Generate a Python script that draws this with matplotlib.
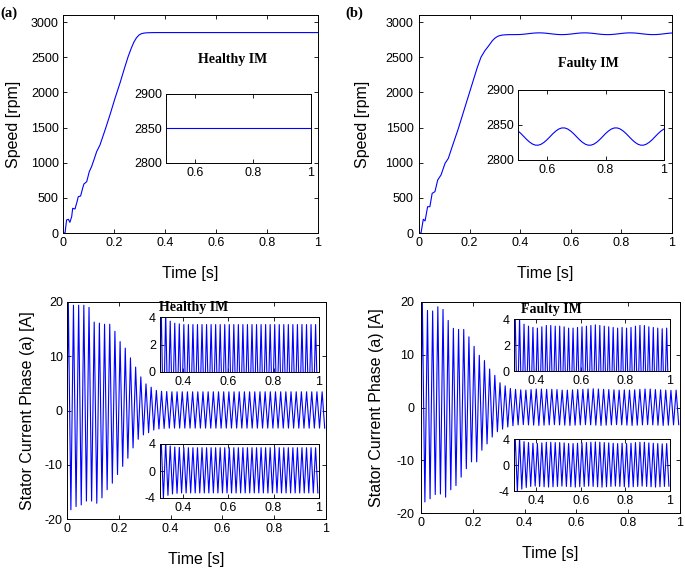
import numpy as np
import matplotlib
matplotlib.use("Agg")
import matplotlib.pyplot as plt
from matplotlib.ticker import FuncFormatter

plt.rcParams['font.family'] = ['Liberation Sans', 'DejaVu Sans']
plt.rcParams['axes.unicode_minus'] = False

# ---- speed, healthy motor (rpm) ----
h_time = [0, 0.008, 0.014, 0.021, 0.027, 0.034, 0.038, 0.047, 0.054, 0.060,
          0.069, 0.077, 0.082, 0.093, 0.103, 0.112, 0.122, 0.132, 0.145, 0.165,
          0.184, 0.204, 0.224, 0.243, 0.256, 0.268, 0.278, 0.288, 0.298, 0.308,
          0.318, 0.330, 0.345, 0.360, 0.400, 0.500, 0.600, 0.700, 0.800, 0.900, 1.000]
h_speed = [0, 0, 185, 195, 152, 232, 351, 341, 431, 517,
           526, 636, 697, 730, 872, 943, 1048, 1157, 1252, 1465,
           1678, 1916, 2138, 2366, 2514, 2630, 2715, 2775, 2815, 2835,
           2843, 2847, 2849, 2850, 2850, 2850, 2850, 2850, 2850, 2850, 2850]

# ---- speed, faulty motor (rpm): run-up, then steady part sampled every 10 ms ----
f_time_rise = [0, 0.008, 0.017, 0.024, 0.034, 0.043, 0.052, 0.063, 0.074, 0.087,
               0.103, 0.116, 0.129, 0.155, 0.180, 0.205, 0.230, 0.245, 0.260, 0.275,
               0.290, 0.300, 0.310, 0.320, 0.330, 0.340, 0.350, 0.360, 0.370, 0.380, 0.390]
f_speed_rise = [0, 0, 195, 172, 374, 374, 564, 588, 754, 825,
                991, 1062, 1204, 1480, 1770, 2060, 2350, 2500, 2590, 2660,
                2735, 2770, 2795, 2808, 2815, 2818, 2820, 2821, 2821, 2821, 2822]
f_speed_steady = [2822.7, 2825.5, 2829.2, 2833.5, 2837.8, 2841.5, 2844.3, 2845.8, 2845.8,
                  2844.3, 2841.5, 2837.8, 2833.5, 2829.2, 2825.5, 2822.7, 2821.2, 2821.2,
                  2822.7, 2825.5, 2829.2, 2833.5, 2837.8, 2841.5, 2844.3, 2845.8, 2845.8,
                  2844.3, 2841.5, 2837.8, 2833.5, 2829.2, 2825.5, 2822.7, 2821.2, 2821.2,
                  2822.7, 2825.5, 2829.2, 2833.5, 2837.8, 2841.5, 2844.3, 2845.8, 2845.8,
                  2844.3, 2841.5, 2837.8, 2833.5, 2829.2, 2825.5, 2822.7, 2821.2, 2821.2,
                  2822.7, 2825.5, 2829.2, 2833.5, 2837.8, 2841.5, 2844.3]

# ---- stator current phase a (A): positive / negative peak of every 50 Hz cycle ----
h_peaks = [20.5, 19.4, 19.4, 19.4, 19.0, 16.3, 16.1, 15.9, 15.9, 14.6,
           12.7, 11.5, 9.7, 8.0, 6.2, 4.9, 4.3, 3.7, 3.55, 3.5,
           3.45, 3.45, 3.45, 3.45, 3.45, 3.45, 3.45, 3.45, 3.45, 3.45,
           3.45, 3.45, 3.45, 3.45, 3.45, 3.45, 3.45, 3.45, 3.45, 3.45,
           3.45, 3.45, 3.45, 3.45, 3.45, 3.45, 3.45, 3.45, 3.45, 3.45]
h_troughs = [-18.3, -17.7, -17.4, -16.7, -16.7, -17.1, -16.1, -14.6, -13.4, -11.8,
             -10.3, -8.8, -6.9, -5.3, -4.5, -4.1, -3.6, -3.4, -3.3, -3.25,
             -3.25, -3.25, -3.25, -3.25, -3.25, -3.25, -3.25, -3.25, -3.25, -3.25,
             -3.25, -3.25, -3.25, -3.25, -3.25, -3.25, -3.25, -3.25, -3.25, -3.25,
             -3.25, -3.25, -3.25, -3.25, -3.25, -3.25, -3.25, -3.25, -3.25, -3.25]
f_peaks = [20.5, 18.4, 18.3, 19.1, 18.6, 16.5, 15.0, 14.8, 14.8, 13.4,
           11.6, 9.9, 8.9, 7.3, 6.1, 4.7, 4.1, 3.6, 3.45, 3.35,
           3.3, 3.4, 3.5, 3.5, 3.45, 3.45, 3.4, 3.3, 3.3, 3.35,
           3.4, 3.45, 3.5, 3.55, 3.5, 3.45, 3.4, 3.35, 3.3, 3.35,
           3.3, 3.35, 3.45, 3.5, 3.5, 3.4, 3.35, 3.3, 3.25, 3.3]
f_troughs = [-17.9, -17.3, -16.5, -16.4, -17.0, -15.6, -14.8, -13.2, -11.6, -10.3,
             -10.3, -8.1, -6.9, -5.6, -4.6, -4.1, -3.7, -3.45, -3.3, -3.25,
             -3.3, -3.35, -3.4, -3.35, -3.3, -3.25, -3.3, -3.35, -3.4, -3.35,
             -3.3, -3.25, -3.3, -3.35, -3.4, -3.35, -3.3, -3.25, -3.3, -3.35,
             -3.4, -3.35, -3.3, -3.25, -3.3, -3.35, -3.4, -3.35, -3.3, -3.25]

main_xticks = [0, 0.2, 0.4, 0.6, 0.8, 1]
speed_yticks = [0, 500, 1000, 1500, 2000, 2500, 3000]
current_yticks = [-20, -10, 0, 10, 20]


def current_trace(peaks, troughs):
    # one sample per half cycle of 50 Hz (positive peak, then negative peak)
    n = len(peaks)
    t_pk = 0.005 + 0.02 * np.arange(n)
    t = np.empty(2 * n + 1)
    v = np.empty(2 * n + 1)
    t[0], v[0] = 0.0, 0.0
    t[1::2], v[1::2] = t_pk, peaks
    t[2::2], v[2::2] = t_pk + 0.01, troughs
    return t, v


fmt = FuncFormatter(lambda x, pos: "%g" % x)


def style(ax, fs=9, ypad=3):
    ax.tick_params(direction='in', top=True, right=True, length=3, width=0.6,
                   labelsize=fs, pad=3)
    ax.tick_params(axis='y', pad=ypad)
    for s in ax.spines.values():
        s.set_linewidth(0.7)
    ax.xaxis.set_major_formatter(fmt)
    ax.yaxis.set_major_formatter(fmt)


W, H = 685, 568


def box(x0, y0, x1, y1):
    return [x0 / W, 1 - y1 / H, (x1 - x0) / W, (y1 - y0) / H]


fig = plt.figure(figsize=(6.85, 5.68), dpi=100)
blue = '#0000ff'
serif = dict(family=['Liberation Serif', 'DejaVu Serif'], weight='bold')

f_time = list(f_time_rise) + list(np.linspace(0.40, 1.0, len(f_speed_steady)))
f_speed = list(f_speed_rise) + list(f_speed_steady)

# ---- top row: speed ----
for (t, v, rect, irect, name, lab, lx, tx, ty, ylp, ytp) in [
        (h_time, h_speed, box(63, 15, 318, 233), box(166, 94, 311, 163), 'Healthy IM', '(a)', 0, 233, 60, 7, 3),
        (f_time, f_speed, box(419, 15, 672, 233), box(518, 90, 664, 160), 'Faulty IM', '(b)', 345, 588, 63, 11, 4)]:
    ax = fig.add_axes(rect)
    ax.plot(t, v, color=blue, lw=0.8)
    ax.set_xlim(0, 1)
    ax.set_ylim(0, 3100)
    ax.set_xticks(main_xticks)
    ax.set_yticks(speed_yticks)
    style(ax, ypad=ytp)
    ax.set_xlabel('Time [s]', fontsize=11.5, labelpad=12)
    ax.set_ylabel('Speed [rpm]', fontsize=11.5, labelpad=ylp)
    fig.text(tx / W, 1 - ty / H, name, ha='center', va='center', fontsize=10, **serif)
    fig.text(lx / W, 1 - 13 / H, lab, ha='left', va='center', fontsize=10.5, **serif)

    ins = fig.add_axes(irect)
    ins.plot(t, v, color=blue, lw=0.8)
    ins.set_xlim(0.5, 1)
    ins.set_ylim(2800, 2900)
    ins.set_xticks([0.6, 0.8, 1])
    ins.set_yticks([2800, 2850, 2900])
    style(ins)

# ---- bottom row: stator current ----
for (pk, tr, rect, r_up, r_lo, name, tx, ty, ylp, ytp) in [
        (h_peaks, h_troughs, box(67, 302, 326, 519), box(160, 317, 319, 372), box(160, 444, 319, 498), 'Healthy IM', 159, 307, 7, 3),
        (f_peaks, f_troughs, box(421, 302, 680, 513), box(514, 319, 670, 371), box(514, 439, 670, 491), 'Faulty IM', 521, 309, 9, 5)]:
    t, v = current_trace(pk, tr)
    ax = fig.add_axes(rect)
    ax.plot(t, v, color=blue, lw=0.8)
    ax.set_xlim(0, 1)
    ax.set_ylim(-20, 20)
    ax.set_xticks(main_xticks)
    ax.set_yticks(current_yticks)
    style(ax, ypad=ytp)
    ax.set_xlabel('Time [s]', fontsize=11.5, labelpad=12)
    ax.set_ylabel('Stator Current Phase (a) [A]', fontsize=11.5, labelpad=ylp)

    for r, yl, yt in [(r_up, (0, 4), [0, 2, 4]), (r_lo, (-4, 4), [-4, 0, 4])]:
        ins = fig.add_axes(r)
        ins.plot(t, v, color=blue, lw=0.8)
        ins.set_xlim(0.3, 1)
        ins.set_ylim(*yl)
        ins.set_xticks([0.4, 0.6, 0.8, 1])
        ins.set_yticks(yt)
        style(ins)
    fig.text(tx / W, 1 - ty / H, name, ha='left', va='center', fontsize=10, **serif)

fig.savefig('out.png', dpi=100)
